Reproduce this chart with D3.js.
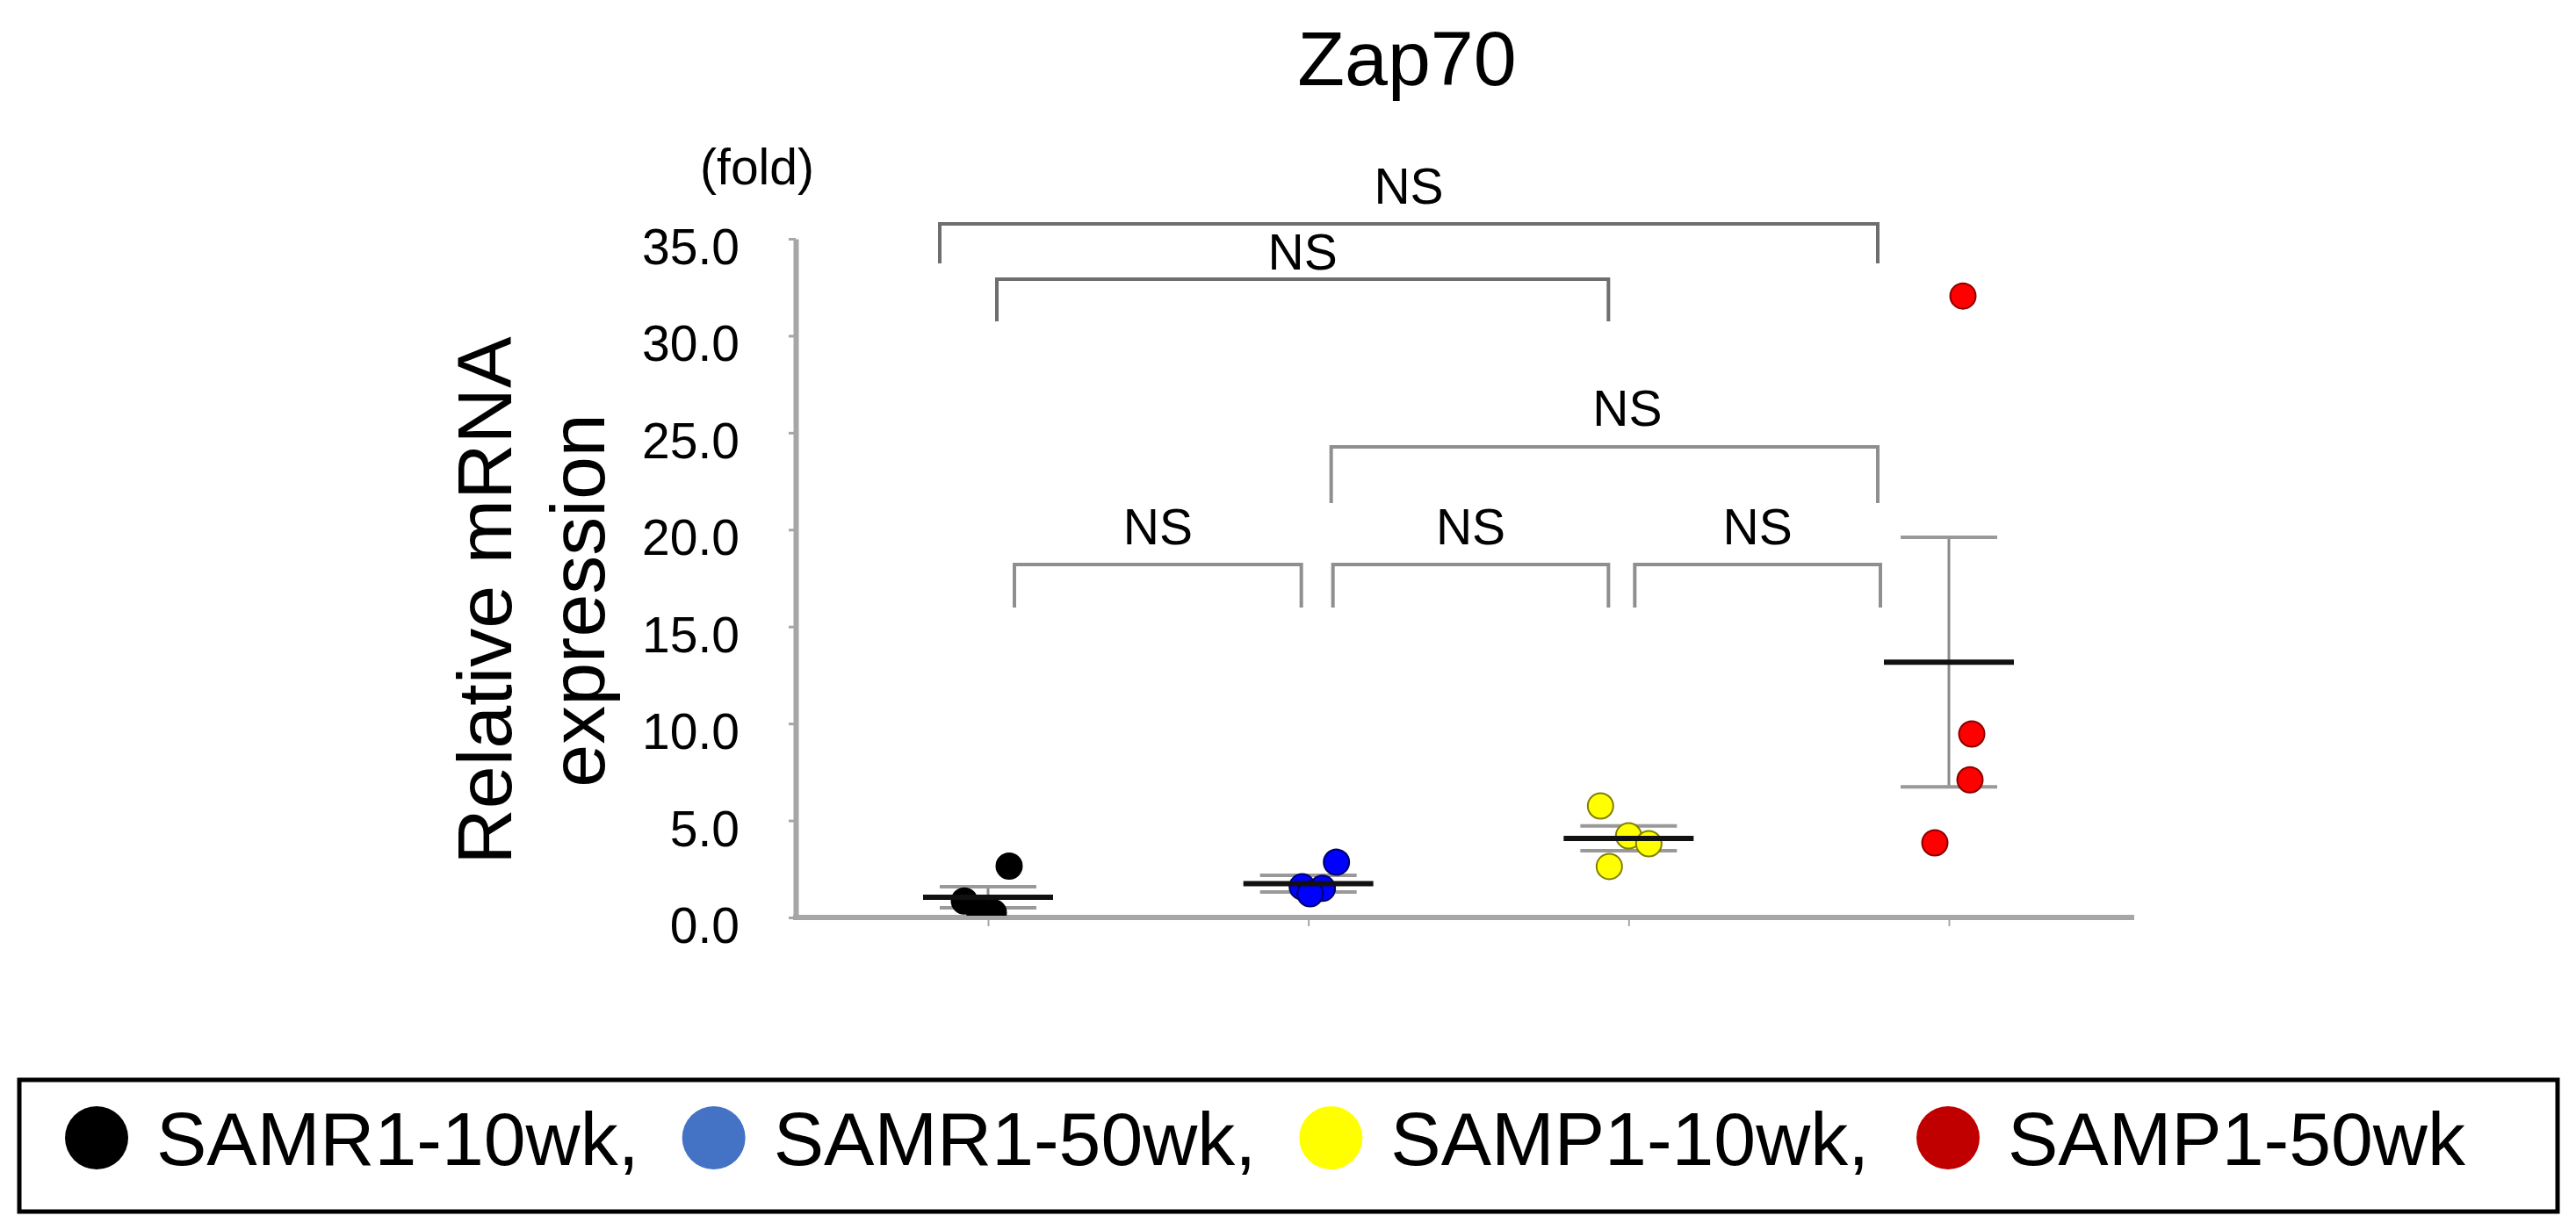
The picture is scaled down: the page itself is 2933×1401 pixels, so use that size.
<!DOCTYPE html>
<html>
<head>
<meta charset="utf-8">
<script src="https://cdn.jsdelivr.net/npm/d3@7"></script>
<style>
  body { margin: 0; background: #fff; }
  svg { display: block; }
</style>
</head>
<body>
<div id="svg-container"></div>
<script>
const groups = ['SAMR1-10wk', 'SAMR1-50wk', 'SAMP1-10wk', 'SAMP1-50wk'];
const samr1_10wk = [2.65, 0.85, 0.35, 0.25];
const samr1_50wk = [2.85, 1.58, 1.5, 1.22];
const samp1_10wk = [5.75, 4.21, 3.8, 2.63];
const samp1_50wk = [32.05, 9.46, 7.1, 3.85];
const groupMeans = [1.04, 1.74, 4.08, 13.17];
const groupSems = [0.54, 0.43, 0.64, 6.43];
const yTicks = [0, 5, 10, 15, 20, 25, 30, 35];

// significance brackets: group pairs, bar height, leg end and label height (fold units)
const bracketPairs = [[0, 3], [0, 2], [1, 3], [0, 1], [1, 2], [2, 3]];
const bracketLabels = ['NS', 'NS', 'NS', 'NS', 'NS', 'NS'];
const bracketTops = [35.77, 32.92, 24.27, 18.2, 18.2, 18.2];
const bracketLegEnds = [33.73, 30.74, 21.37, 15.98, 15.98, 15.98];
const bracketLabelAt = [36.81, 33.41, 25.36, 19.24, 19.24, 19.24];

const FONT = "'Liberation Sans', Arial, Helvetica, sans-serif";
const dotFill = ['#000000', '#0000ff', '#ffff00', '#ff0000'];
const dotStroke = ['#000000', '#000066', '#808000', '#8b0000'];
const legendFill = ['#000000', '#4472c4', '#ffff00', '#c00000'];
// horizontal jitter of dots (px) and bracket end nudges (px), as in the original figure
const dotJitter = [[24, -27, -10, 6], [32, -7, 16, 2], [-32, 0, 23, -22], [16, 26, 24, -16]];
const bracketNudge = [[-55, -81], [10, -23], [26, -81], [30, -8], [28, -23], [7, -78]];
const bracketLabelShift = [0, 0, 26, 0, 0, 0];

const drawChart = () => {
  const WIDTH = 2933;
  const HEIGHT = 1401;
  const PLOT_LEFT = 906;
  const PLOT_RIGHT = 2430;
  const PLOT_TOP = 272;
  const PLOT_BOTTOM = 1045;

  const svgContainer = document.getElementById('svg-container');
  const svg = d3
    .create('svg')
    .attr('width', WIDTH)
    .attr('height', HEIGHT)
    .attr('font-family', FONT);
  svgContainer.appendChild(svg.node());

  const series = [samr1_10wk, samr1_50wk, samp1_10wk, samp1_50wk];

  const xScale = d3.scalePoint().domain(groups).range([1125, 2219]);
  const yScale = d3
    .scaleLinear()
    .domain([0, 35])
    .range([PLOT_BOTTOM, PLOT_TOP]);

  svg
    .append('defs')
    .append('clipPath')
    .attr('id', 'plot-clip')
    .append('rect')
    .attr('x', PLOT_LEFT)
    .attr('y', 0)
    .attr('width', PLOT_RIGHT - PLOT_LEFT)
    .attr('height', PLOT_BOTTOM - 2);

  // title and units
  svg
    .append('text')
    .attr('x', 1602)
    .attr('y', 97)
    .attr('text-anchor', 'middle')
    .attr('font-size', 88)
    .text('Zap70');
  svg
    .append('text')
    .attr('x', 862)
    .attr('y', 210)
    .attr('text-anchor', 'middle')
    .attr('font-size', 57)
    .text('(fold)');

  // y axis label
  const yLabelY = 684;
  svg
    .append('text')
    .attr('transform', `translate(582, ${yLabelY}) rotate(-90)`)
    .attr('text-anchor', 'middle')
    .attr('font-size', 88)
    .text('Relative mRNA');
  svg
    .append('text')
    .attr('transform', `translate(688, ${yLabelY}) rotate(-90)`)
    .attr('text-anchor', 'middle')
    .attr('font-size', 88)
    .text('expression');

  // brackets
  const brackets = svg.append('g').attr('class', 'brackets');
  bracketPairs.forEach(([a, b], i) => {
    const xLeft = xScale(groups[a]) + bracketNudge[i][0];
    const xRight = xScale(groups[b]) + bracketNudge[i][1];
    const yTop = yScale(bracketTops[i]);
    const yLeg = yScale(bracketLegEnds[i]);
    brackets
      .append('path')
      .attr('d', `M${xLeft},${yLeg}V${yTop}H${xRight}V${yLeg}`)
      .attr('fill', 'none')
      .attr('stroke', i < 2 ? '#6e6e6e' : '#8f8f8f')
      .attr('stroke-width', 4);
    brackets
      .append('text')
      .attr('x', (xLeft + xRight) / 2 + bracketLabelShift[i])
      .attr('y', yScale(bracketLabelAt[i]))
      .attr('text-anchor', 'middle')
      .attr('font-size', 57)
      .text(bracketLabels[i]);
  });

  // y axis
  const axisLeft = d3
    .axisLeft(yScale)
    .tickValues(yTicks)
    .tickFormat(d3.format('.1f'))
    .tickSize(8)
    .tickSizeOuter(0)
    .tickPadding(56);
  const yAxis = svg
    .append('g')
    .attr('id', 'y-axis')
    .attr('transform', `translate(${PLOT_LEFT}, 0)`)
    .call(axisLeft)
    .attr('font-family', FONT)
    .attr('font-size', 57);
  yAxis.select('.domain').attr('stroke', '#a6a6a6').attr('stroke-width', 6);
  yAxis.selectAll('.tick line').attr('stroke', '#a6a6a6').attr('stroke-width', 3);
  yAxis.selectAll('.tick text').attr('fill', '#000').attr('dy', '0.5em');

  // x axis
  svg
    .append('line')
    .attr('x1', PLOT_LEFT - 3)
    .attr('x2', PLOT_RIGHT)
    .attr('y1', yScale(0))
    .attr('y2', yScale(0))
    .attr('stroke', '#a6a6a6')
    .attr('stroke-width', 6);
  const xAxis = svg
    .append('g')
    .attr('id', 'x-axis')
    .attr('transform', `translate(0, ${yScale(0)})`)
    .call(d3.axisBottom(xScale).tickFormat('').tickSize(10).tickSizeOuter(0));
  xAxis.select('.domain').remove();
  xAxis.selectAll('.tick line').attr('stroke', '#a6a6a6').attr('stroke-width', 2);

  // error bars (SEM)
  const errors = svg.append('g').attr('class', 'errors');
  groups.forEach((group, i) => {
    const cx = xScale(group);
    const hi = yScale(groupMeans[i] + groupSems[i]);
    const lo = yScale(groupMeans[i] - groupSems[i]);
    errors
      .append('line')
      .attr('x1', cx)
      .attr('x2', cx)
      .attr('y1', hi)
      .attr('y2', lo)
      .attr('stroke', '#8a8a8a')
      .attr('stroke-width', 3);
    [hi, lo].forEach((y) =>
      errors
        .append('line')
        .attr('x1', cx - 55)
        .attr('x2', cx + 55)
        .attr('y1', y)
        .attr('y2', y)
        .attr('stroke', '#999999')
        .attr('stroke-width', 4)
    );
  });

  // dots
  const dots = svg.append('g').attr('clip-path', 'url(#plot-clip)');
  series.forEach((values, i) => {
    dots
      .selectAll(`.dot-${i}`)
      .data(values)
      .join('circle')
      .attr('class', `dot-${i}`)
      .attr('cx', (d, j) => xScale(groups[i]) + dotJitter[i][j])
      .attr('cy', (d) => yScale(d))
      .attr('r', 14.5)
      .attr('fill', dotFill[i])
      .attr('stroke', dotStroke[i])
      .attr('stroke-width', 2);
  });

  // mean lines
  svg
    .append('g')
    .selectAll('line')
    .data(groupMeans)
    .join('line')
    .attr('x1', (d, i) => xScale(groups[i]) - 74)
    .attr('x2', (d, i) => xScale(groups[i]) + 74)
    .attr('y1', (d) => yScale(d))
    .attr('y2', (d) => yScale(d))
    .attr('stroke', '#111')
    .attr('stroke-width', 6);

  // legend
  svg
    .append('rect')
    .attr('x', 22)
    .attr('y', 1230)
    .attr('width', 2890)
    .attr('height', 150)
    .attr('fill', 'none')
    .attr('stroke', '#000')
    .attr('stroke-width', 5);
  const legendScale = d3.scalePoint().domain(groups).range([110, 2218]);
  const legendItems = svg
    .append('g')
    .attr('id', 'legend')
    .selectAll('g')
    .data(groups)
    .join('g')
    .attr('transform', (d) => `translate(${legendScale(d)}, 1296)`);
  legendItems
    .append('circle')
    .attr('r', 36)
    .attr('fill', (d, i) => legendFill[i]);
  legendItems
    .append('text')
    .attr('x', 68)
    .attr('y', 31)
    .attr('font-size', 86)
    .text((d, i) => (i < groups.length - 1 ? `${d},` : d));
};

drawChart();
</script>
</body>
</html>
